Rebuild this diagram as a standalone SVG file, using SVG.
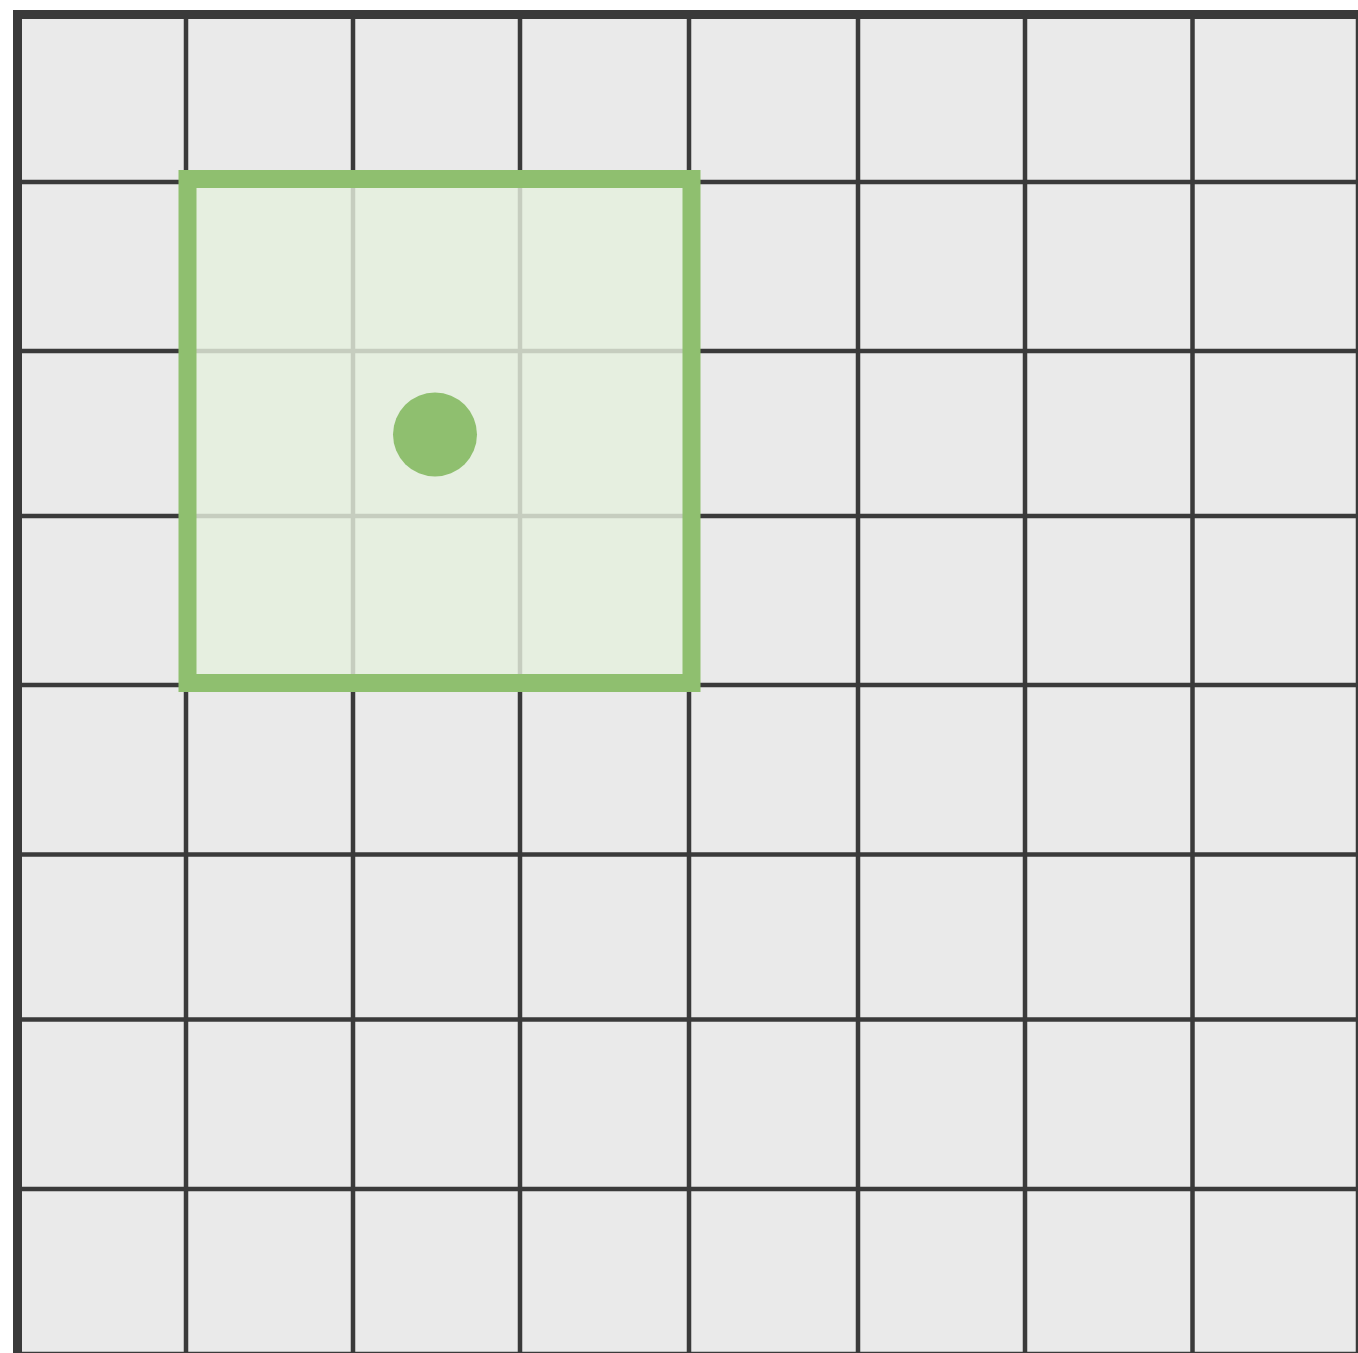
<svg xmlns="http://www.w3.org/2000/svg" width="1358" height="1353" viewBox="0 0 1358 1353">
  <style>
    .g { stroke: #3a3a3a; stroke-width: 4.5; fill: none; }
    .gb { stroke: #3a3a3a; stroke-width: 9; fill: none; }
    .gl { stroke: #c6cdbf; stroke-width: 4.5; fill: none; }
  </style>
  <rect x="0" y="0" width="1358" height="1353" fill="#ffffff"/>
  <g id="grid">
    <rect x="13" y="10" width="1345" height="1343" fill="#eaeaea"/>
    <g class="g">
      <line x1="186" y1="14" x2="186" y2="1358"/>
      <line x1="353" y1="14" x2="353" y2="1358"/>
      <line x1="520" y1="14" x2="520" y2="1358"/>
      <line x1="689" y1="14" x2="689" y2="1358"/>
      <line x1="858" y1="14" x2="858" y2="1358"/>
      <line x1="1025" y1="14" x2="1025" y2="1358"/>
      <line x1="1192.5" y1="14" x2="1192.5" y2="1358"/>
      <line x1="1358" y1="14" x2="1358" y2="1358"/>
      <line x1="18" y1="182" x2="1360" y2="182"/>
      <line x1="18" y1="351" x2="1360" y2="351"/>
      <line x1="18" y1="516" x2="1360" y2="516"/>
      <line x1="18" y1="685" x2="1360" y2="685"/>
      <line x1="18" y1="854.5" x2="1360" y2="854.5"/>
      <line x1="18" y1="1019.5" x2="1360" y2="1019.5"/>
      <line x1="18" y1="1189" x2="1360" y2="1189"/>
      <line x1="18" y1="1354" x2="1360" y2="1354"/>
    </g>
    <g class="gb">
      <line x1="17.5" y1="10" x2="17.5" y2="1360"/>
      <line x1="13" y1="14.5" x2="1360" y2="14.5"/>
    </g>
  </g>
  <g id="window">
    <rect x="187.5" y="179" width="504" height="504" fill="#e6efe0"/>
    <g class="gl">
      <line x1="353" y1="179" x2="353" y2="683"/>
      <line x1="520" y1="179" x2="520" y2="683"/>
      <line x1="187.5" y1="351" x2="691.5" y2="351"/>
      <line x1="187.5" y1="516" x2="691.5" y2="516"/>
    </g>
    <rect x="187.5" y="179" width="504" height="504" fill="none" stroke="#8fbf6f" stroke-width="18"/>
  </g>
  <g id="center">
    <circle cx="435" cy="434.5" r="42" fill="#8fbf6f"/>
  </g>
</svg>
